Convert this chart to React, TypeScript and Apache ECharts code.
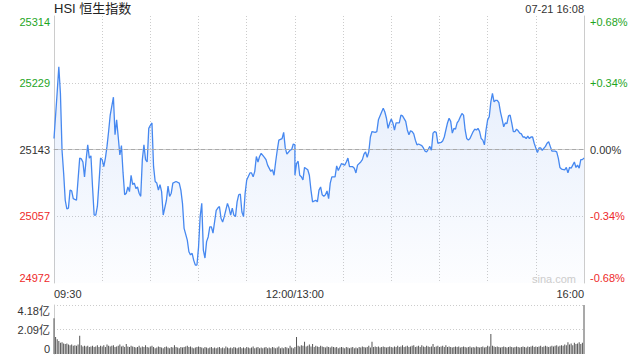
import { useEffect, useRef } from "react";
import * as echarts from "echarts";

const TITLE = "HSI 恒生指数";
const STAMP = "07-21 16:08";
const WATERMARK = "sina.com";
const PREV_CLOSE = 25143;
const HALF_RANGE = 171;

const LEFT_TICKS = ["24972", "25057", "25143", "25229", "25314"];
const RIGHT_TICKS = ["-0.68%", "-0.34%", "0.00%", "+0.34%", "+0.68%"];
const TICK_COLORS = ["#ee2a2a", "#ee2a2a", "#333333", "#1ea51e", "#1ea51e"];
const TIME_TICKS = ["09:30", "12:00/13:00", "16:00"];
const VOL_TICKS = ["0", "2.09亿", "4.18亿"];
const VOL_MAX = 4.18;

// [time, index level]
const PRICE_POINTS: [string, number][] = [
  ["09:30", 25157], ["09:32", 25217], ["09:33", 25249], ["09:34", 25215], ["09:35", 25142],
  ["09:36", 25113], ["09:37", 25078], ["09:38", 25067], ["09:39", 25068], ["09:40", 25091],
  ["09:41", 25090], ["09:42", 25080], ["09:44", 25078], ["09:46", 25132], ["09:47", 25131],
  ["09:48", 25127], ["09:49", 25108], ["09:50", 25130], ["09:51", 25149], ["09:52", 25132],
  ["09:53", 25135], ["09:54", 25095], ["09:55", 25059], ["09:56", 25059], ["09:57", 25070],
  ["09:58", 25100], ["09:59", 25132], ["10:00", 25130], ["10:01", 25121], ["10:02", 25132],
  ["10:03", 25147], ["10:04", 25166], ["10:05", 25187], ["10:07", 25210], ["10:08", 25162],
  ["10:09", 25181], ["10:10", 25159], ["10:11", 25136], ["10:12", 25148], ["10:13", 25113],
  ["10:14", 25085], ["10:15", 25087], ["10:16", 25095], ["10:17", 25089], ["10:18", 25110],
  ["10:19", 25098], ["10:20", 25100], ["10:21", 25093], ["10:22", 25095], ["10:23", 25087],
  ["10:24", 25083], ["10:25", 25130], ["10:26", 25149], ["10:27", 25130], ["10:28", 25127],
  ["10:29", 25170], ["10:30", 25174], ["10:31", 25177], ["10:32", 25121], ["10:33", 25102],
  ["10:34", 25100], ["10:35", 25091], ["10:36", 25098], ["10:37", 25089], ["10:38", 25059],
  ["10:40", 25078], ["10:41", 25096], ["10:42", 25083], ["10:43", 25087], ["10:44", 25100],
  ["10:46", 25102], ["10:48", 25100], ["10:49", 25091], ["10:50", 25074], ["10:51", 25042],
  ["10:53", 25027], ["10:54", 25012], ["10:55", 25008], ["10:56", 25010], ["10:57", 25001],
  ["10:58", 24995], ["10:59", 24995], ["11:00", 25018], ["11:01", 25057], ["11:02", 25074],
  ["11:03", 25014], ["11:04", 25004], ["11:05", 25025], ["11:06", 25031], ["11:07", 25044],
  ["11:08", 25044], ["11:09", 25036], ["11:11", 25065], ["11:12", 25068], ["11:13", 25070],
  ["11:14", 25055], ["11:15", 25050], ["11:16", 25057], ["11:18", 25074], ["11:19", 25068],
  ["11:20", 25059], ["11:21", 25068], ["11:22", 25059], ["11:23", 25057], ["11:24", 25076],
  ["11:25", 25085], ["11:26", 25086], ["11:27", 25063], ["11:28", 25057], ["11:29", 25087],
  ["11:30", 25104], ["11:32", 25113], ["11:33", 25113], ["11:34", 25108], ["11:35", 25115],
  ["11:36", 25134], ["11:37", 25127], ["11:38", 25134], ["11:39", 25138], ["11:41", 25133],
  ["11:42", 25130], ["11:43", 25123], ["11:45", 25115], ["11:46", 25117], ["11:47", 25110],
  ["11:48", 25127], ["11:49", 25142], ["11:50", 25155], ["11:52", 25157], ["11:53", 25165],
  ["11:54", 25145], ["11:55", 25137], ["11:57", 25142], ["11:58", 25143], ["11:59", 25150],
  ["12:00", 25149], ["13:00", 25110], ["13:01", 25125], ["13:02", 25128], ["13:03", 25110],
  ["13:04", 25108], ["13:05", 25104], ["13:06", 25120], ["13:08", 25117], ["13:09", 25110],
  ["13:10", 25091], ["13:11", 25076], ["13:13", 25078], ["13:14", 25076], ["13:15", 25091],
  ["13:16", 25095], ["13:17", 25085], ["13:18", 25083], ["13:19", 25085], ["13:20", 25090],
  ["13:21", 25080], ["13:22", 25100], ["13:23", 25108], ["13:25", 25108], ["13:26", 25122],
  ["13:27", 25116], ["13:29", 25125], ["13:31", 25123], ["13:32", 25127], ["13:33", 25132],
  ["13:34", 25121], ["13:36", 25121], ["13:37", 25119], ["13:38", 25113], ["13:39", 25123],
  ["13:41", 25127], ["13:42", 25130], ["13:43", 25137], ["13:44", 25140], ["13:45", 25133],
  ["13:46", 25140], ["13:47", 25159], ["13:48", 25166], ["13:50", 25165], ["13:51", 25166],
  ["13:52", 25181], ["13:54", 25191], ["13:55", 25196], ["13:56", 25191], ["13:57", 25183],
  ["13:58", 25170], ["13:59", 25177], ["14:00", 25182], ["14:01", 25177], ["14:02", 25168],
  ["14:03", 25177], ["14:04", 25177], ["14:05", 25177], ["14:06", 25187], ["14:07", 25186],
  ["14:09", 25179], ["14:10", 25168], ["14:11", 25162], ["14:12", 25167], ["14:13", 25166],
  ["14:14", 25163], ["14:15", 25155], ["14:16", 25149], ["14:17", 25150], ["14:19", 25148],
  ["14:20", 25145], ["14:21", 25141], ["14:22", 25140], ["14:23", 25143], ["14:24", 25147],
  ["14:25", 25142], ["14:26", 25164], ["14:27", 25166], ["14:28", 25165], ["14:29", 25151],
  ["14:31", 25152], ["14:32", 25154], ["14:33", 25159], ["14:35", 25177], ["14:36", 25183],
  ["14:37", 25179], ["14:38", 25164], ["14:39", 25170], ["14:40", 25169], ["14:41", 25177],
  ["14:42", 25180], ["14:43", 25185], ["14:44", 25189], ["14:45", 25187], ["14:46", 25168],
  ["14:47", 25157], ["14:48", 25155], ["14:49", 25157], ["14:51", 25166], ["14:52", 25169],
  ["14:53", 25168], ["14:54", 25170], ["14:55", 25166], ["14:56", 25157], ["14:57", 25155],
  ["14:58", 25149], ["14:59", 25168], ["15:00", 25181], ["15:01", 25185], ["15:02", 25204],
  ["15:03", 25215], ["15:04", 25204], ["15:05", 25206], ["15:06", 25206], ["15:07", 25203],
  ["15:08", 25191], ["15:09", 25182], ["15:10", 25172], ["15:11", 25177], ["15:12", 25176],
  ["15:13", 25186], ["15:14", 25187], ["15:15", 25177], ["15:16", 25166], ["15:17", 25166],
  ["15:18", 25169], ["15:19", 25167], ["15:20", 25164], ["15:21", 25163], ["15:22", 25159],
  ["15:23", 25159], ["15:24", 25157], ["15:25", 25160], ["15:26", 25157], ["15:27", 25159],
  ["15:28", 25159], ["15:29", 25151], ["15:31", 25139], ["15:32", 25145], ["15:33", 25145],
  ["15:34", 25142], ["15:36", 25147], ["15:37", 25151], ["15:38", 25153], ["15:39", 25147],
  ["15:40", 25141], ["15:42", 25141], ["15:43", 25140], ["15:44", 25132], ["15:45", 25120],
  ["15:46", 25118], ["15:48", 25117], ["15:49", 25120], ["15:50", 25113], ["15:51", 25120],
  ["15:52", 25119], ["15:53", 25123], ["15:54", 25127], ["15:55", 25120], ["15:56", 25123],
  ["15:57", 25119], ["15:58", 25130], ["15:59", 25130], ["16:00", 25132],
];

// volume per minute (亿), 09:30 .. 12:00 then 13:01 .. 16:00
const VOLUME: number[] = [
  3.05,
  1.45, 1.25, 1.1, 0.95, 1.0, 0.9, 0.85, 0.9, 0.8, 0.75,
  0.8, 0.7, 0.75, 0.7, 0.8, 1.55, 0.75, 0.65, 0.7, 0.65,
  0.7, 0.6, 0.65, 0.7, 0.6, 0.65, 0.75, 0.6, 0.7, 0.65,
  0.75, 0.6, 0.8, 0.7, 0.65, 0.7, 0.75, 0.6, 0.65, 0.7,
  0.8, 0.65, 0.7, 0.6, 0.85, 0.65, 0.6, 0.7, 0.65, 0.6,
  0.55, 0.6, 0.7, 0.55, 0.65, 0.6, 0.75, 0.6, 0.55, 0.65,
  0.7, 0.6, 0.5, 0.55, 0.65, 0.6, 0.55, 0.5, 0.6, 0.65,
  0.55, 0.5, 0.6, 0.55, 0.75, 0.6, 0.55, 0.5, 0.6, 0.55,
  0.6, 0.65, 0.7, 0.6, 0.65, 0.55, 0.5, 0.55, 0.6, 0.65,
  0.6, 0.55, 0.5, 0.6, 0.55, 0.5, 0.55, 0.6, 0.5, 0.55,
  0.5, 0.55, 0.6, 0.5, 0.55, 0.5, 0.65, 0.55, 0.5, 0.55,
  0.5, 0.6, 0.55, 0.5, 0.55, 0.6, 0.5, 0.55, 0.5, 0.6,
  0.55, 0.5, 0.55, 0.65, 0.5, 0.55, 0.6, 0.5, 0.55, 0.5,
  0.55, 0.6, 0.5, 0.55, 0.5, 0.6, 0.55, 0.5, 0.55, 0.65,
  0.5, 0.55, 0.5, 0.6, 0.55, 0.5, 0.7, 0.55, 0.5, 0.6,
  1.45, 0.7, 0.65, 0.75, 0.7, 1.05, 0.65, 0.7, 0.8, 0.65,
  0.85, 0.6, 0.7, 0.65, 0.6, 0.7, 0.65, 0.6, 0.55, 0.65,
  0.6, 0.55, 0.65, 0.6, 0.55, 0.6, 0.5, 0.55, 0.6, 0.55,
  0.5, 0.6, 0.55, 0.5, 0.55, 0.6, 0.5, 0.55, 0.5, 0.6,
  0.55, 0.65, 0.6, 0.55, 0.6, 0.7, 0.55, 1.05, 0.6, 0.65,
  0.6, 0.65, 0.55, 0.6, 0.65, 0.6, 0.55, 0.6, 0.65, 0.6,
  0.55, 0.65, 0.6, 0.7, 0.6, 0.65, 0.75, 0.6, 0.65, 0.7,
  0.6, 0.65, 0.7, 0.75, 0.6, 0.65, 0.7, 0.6, 0.75, 0.65,
  0.6, 0.7, 0.65, 0.6, 0.65, 0.85, 0.6, 0.65, 0.7, 0.6,
  0.65, 0.7, 0.6, 0.75, 0.6, 0.65, 0.6, 0.55, 0.6, 0.65,
  0.6, 0.65, 0.55, 0.6, 0.65, 0.6, 0.55, 0.6, 0.65, 0.55,
  0.6, 0.55, 0.65, 0.6, 0.55, 0.6, 0.65, 0.55, 0.6, 0.7,
  0.65, 1.7, 0.7, 0.65, 0.6, 0.65, 0.6, 0.55, 0.6, 0.65,
  0.6, 0.55, 0.6, 0.65, 0.6, 0.55, 0.6, 0.65, 0.6, 0.55,
  0.6, 0.65, 0.6, 0.55, 0.65, 0.6, 0.65, 0.7, 0.6, 0.65,
  0.6, 0.65, 0.7, 0.6, 0.65, 0.7, 0.65, 0.6, 0.65, 0.7,
  0.65, 0.7, 0.75, 0.65, 0.7, 0.75, 0.7, 0.8, 0.75, 1.0,
  0.8, 0.9, 0.75, 0.95, 0.85, 0.9, 1.0, 0.85, 0.95, 4.18,
];

const FONT = 'Arial, "Liberation Sans", "Noto Sans CJK SC", sans-serif';

function toMinute(t: string): number {
  const [h, m] = t.split(":").map(Number);
  const mins = h * 60 + m;
  if (h >= 13) return 150 + (mins - 13 * 60);
  return mins - (9 * 60 + 30);
}

function tickIndex(v: number): number {
  return Math.round((v + HALF_RANGE) / (HALF_RANGE / 2));
}

export default function App() {
  const ref = useRef<HTMLDivElement>(null);

  useEffect(() => {
    if (!ref.current) return;
    const chart = echarts.init(ref.current, undefined, { renderer: "svg" });
    const timePos = TIME_TICKS.map((s) => toMinute(s.slice(0, 5)));
    const lastMinute = toMinute(TIME_TICKS[2]);

    const option: any = {
      animation: false,
      backgroundColor: "#ffffff",
      textStyle: { fontFamily: FONT },
      title: {
        text: TITLE,
        left: 54,
        top: 2,
        padding: 0,
        textStyle: { fontSize: 13, fontWeight: "normal", color: "#222", fontFamily: FONT },
      },
      graphic: [
        {
          type: "text",
          right: 56,
          top: 3,
          style: { text: STAMP, fontSize: 11, fill: "#333", fontFamily: FONT },
        },
        {
          type: "text",
          left: 532,
          top: 273,
          z: 10,
          style: { text: WATERMARK, fontSize: 11, fill: "#cccccc", fontFamily: FONT },
        },
      ],
      grid: [
        { left: 54, right: 56, top: 16, height: 267, outerBoundsMode: "none" },
        { left: 54, right: 56, top: 305, height: 49, outerBoundsMode: "none" },
      ],
      xAxis: [
        {
          type: "value",
          gridIndex: 0,
          min: 0,
          max: lastMinute,
          interval: 30,
          axisLine: { show: true, lineStyle: { color: "#cccccc", width: 1 } },
          axisTick: { show: false },
          splitLine: {
            show: true,
            showMinLine: false,
            showMaxLine: false,
            lineStyle: { color: "#cccccc", type: [1, 2], width: 1 },
          },
          axisLabel: {
            margin: 5,
            fontSize: 11,
            color: "#333",
            fontFamily: FONT,
            alignMinLabel: "left",
            alignMaxLabel: "right",
            formatter: (v: number) => {
              const i = timePos.indexOf(v);
              return i >= 0 ? TIME_TICKS[i] : "";
            },
          },
        },
        {
          type: "value",
          gridIndex: 1,
          min: 0,
          max: lastMinute,
          interval: 30,
          axisLine: { show: false },
          axisTick: { show: false },
          splitLine: { show: false },
          axisLabel: { show: false },
        },
      ],
      yAxis: [
        {
          type: "value",
          gridIndex: 0,
          position: "left",
          min: -HALF_RANGE,
          max: HALF_RANGE,
          interval: HALF_RANGE / 2,
          axisLine: { show: true, lineStyle: { color: "#cccccc", width: 1 } },
          axisTick: { show: false },
          splitLine: {
            show: true,
            showMinLine: false,
            showMaxLine: false,
            lineStyle: { color: "#cccccc", type: [1, 2], width: 1 },
          },
          axisLabel: {
            margin: 4,
            fontSize: 11,
            fontFamily: FONT,
            verticalAlignMinLabel: "bottom",
            verticalAlignMaxLabel: "top",
            formatter: (v: number) => LEFT_TICKS[tickIndex(v)] ?? "",
            color: (v: any) => TICK_COLORS[tickIndex(Number(v))] ?? "#333",
          },
        },
        {
          type: "value",
          gridIndex: 0,
          position: "right",
          min: -HALF_RANGE,
          max: HALF_RANGE,
          interval: HALF_RANGE / 2,
          axisLine: { show: true, lineStyle: { color: "#cccccc", width: 1 } },
          axisTick: { show: false },
          splitLine: { show: false },
          axisLabel: {
            margin: 6,
            fontSize: 11,
            fontFamily: FONT,
            verticalAlignMinLabel: "bottom",
            verticalAlignMaxLabel: "top",
            formatter: (v: number) => RIGHT_TICKS[tickIndex(v)] ?? "",
            color: (v: any) => TICK_COLORS[tickIndex(Number(v))] ?? "#333",
          },
        },
        {
          type: "value",
          gridIndex: 1,
          position: "left",
          min: 0,
          max: VOL_MAX,
          interval: VOL_MAX / 2,
          axisLine: { show: true, lineStyle: { color: "#cccccc", width: 1 } },
          axisTick: { show: false },
          splitLine: {
            show: true,
            showMinLine: false,
            showMaxLine: true,
            lineStyle: { color: "#cccccc", type: [1, 2], width: 1 },
          },
          axisLabel: {
            margin: 4,
            fontSize: 11,
            color: "#333",
            fontFamily: FONT,
            verticalAlignMinLabel: "bottom",
            verticalAlignMaxLabel: "top",
            formatter: (v: number) => VOL_TICKS[Math.round(v / (VOL_MAX / 2))] ?? "",
          },
        },
      ],
      series: [
        {
          type: "line",
          xAxisIndex: 0,
          yAxisIndex: 0,
          showSymbol: false,
          symbol: "none",
          data: PRICE_POINTS.map(([t, v]) => [toMinute(t), v - PREV_CLOSE]),
          lineStyle: { color: "#4688f0", width: 1.3 },
          areaStyle: {
            origin: "start",
            color: new echarts.graphic.LinearGradient(0, 0, 0, 1, [
              { offset: 0, color: "rgba(70,130,235,0.2)" },
              { offset: 1, color: "rgba(70,130,235,0.02)" },
            ]),
          },
          markLine: {
            silent: true,
            symbol: "none",
            label: { show: false },
            lineStyle: { color: "#aaaaaa", type: [4, 3], width: 1 },
            data: [{ yAxis: 0 }],
          },
          z: 3,
        },
        {
          type: "bar",
          xAxisIndex: 1,
          yAxisIndex: 2,
          barWidth: 1,
          data: VOLUME.map((v, i) => [i, v]),
          itemStyle: { color: "#555555" },
        },
      ],
    };
    chart.setOption(option);
    return () => chart.dispose();
  }, []);

  return (
    <div
      ref={ref}
      style={{ position: "fixed", left: 0, top: 0, width: 640, height: 360 }}
    />
  );
}
